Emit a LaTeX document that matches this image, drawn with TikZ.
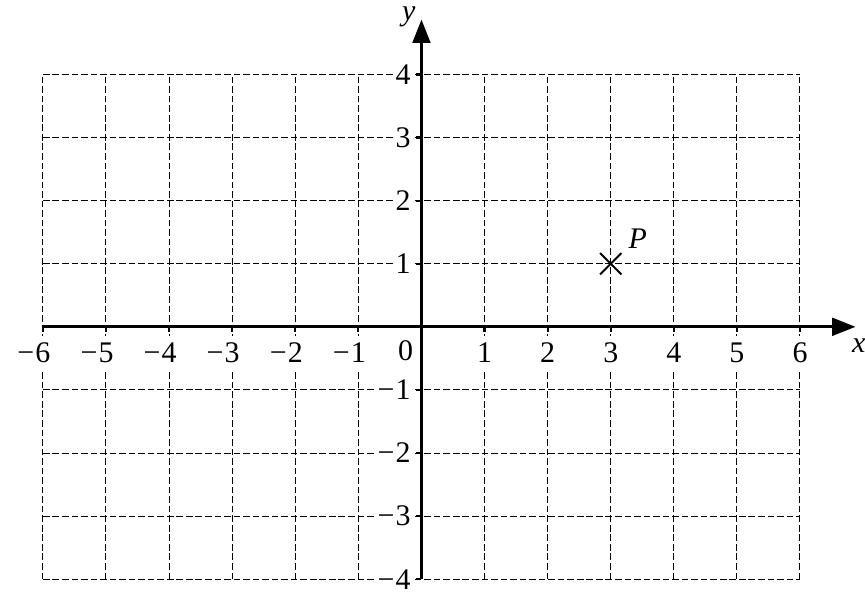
\documentclass[tikz,border=0pt]{standalone}
\usepackage{fontspec}
\setmainfont{Liberation Serif}
\usetikzlibrary{arrows.meta,calc}
\begin{document}
\begin{tikzpicture}[x=1cm,y=1cm,
  gridline/.style={line width=0.45pt, dash pattern=on 3pt off 1.3pt},
  axisline/.style={line width=1.3pt, -{Triangle[length=0.37cm,width=0.28cm]}},
  tickline/.style={line width=1pt},
  lab/.style={fill=white, inner xsep=1pt, inner ysep=3pt, font=\fontsize{13.5}{15}\selectfont},
  varlab/.style={inner sep=0pt, font=\fontsize{13.5}{15}\selectfont\itshape},
  crossline/.style={line width=0.9pt}]
\useasboundingbox (-6.68,-4.23) rectangle (7.03,5.18);
% grid
\draw[gridline] (-6,-4) grid (6,4);
% x labels
\foreach \i in {1,...,6} {
  \node[lab] (xl\i) at (\i,-0.41) {\i};
  \node[lab] (xm\i) at (-\i,-0.41) {\llap{−\kern0.5pt}\i};
}
\node[lab] (xl0) at (-0.25,-0.38) {0};
% y labels
\foreach \j in {1,...,4} {
  \node[lab, anchor=east] (yl\j) at (-0.13,\j) {\j};
  \node[lab, anchor=east] (ym\j) at (-0.13,-\j) {−\kern0.5pt\j};
}
% axes
\coordinate (xs) at (-6,0);
\coordinate (xe) at (6.88,0);
\coordinate (ys) at (0,-4);
\coordinate (ye) at (0,4.87);
\draw[axisline] (xs) -- (xe);
\draw[axisline] (ys) -- (ye);
% ticks
\foreach \i in {-6,...,6} {\draw[tickline] (\i,0) -- (\i,-0.09);}
\foreach \j in {-4,...,4} {\draw[tickline] (0,\j) -- (-0.09,\j);}
% axis names
\node[varlab] (xn) at (6.93,-0.30) {x};
\node[varlab] (yn) at (-0.2,4.92) {y};
% point P
\coordinate (p) at (3,1);
\draw[crossline] ($(p)+(-0.17,-0.17)$) -- ($(p)+(0.17,0.17)$);
\draw[crossline] ($(p)+(-0.17,0.17)$) -- ($(p)+(0.17,-0.17)$);
\node[varlab] (pn) at (3.43,1.40) {P};
\end{tikzpicture}
\end{document}
